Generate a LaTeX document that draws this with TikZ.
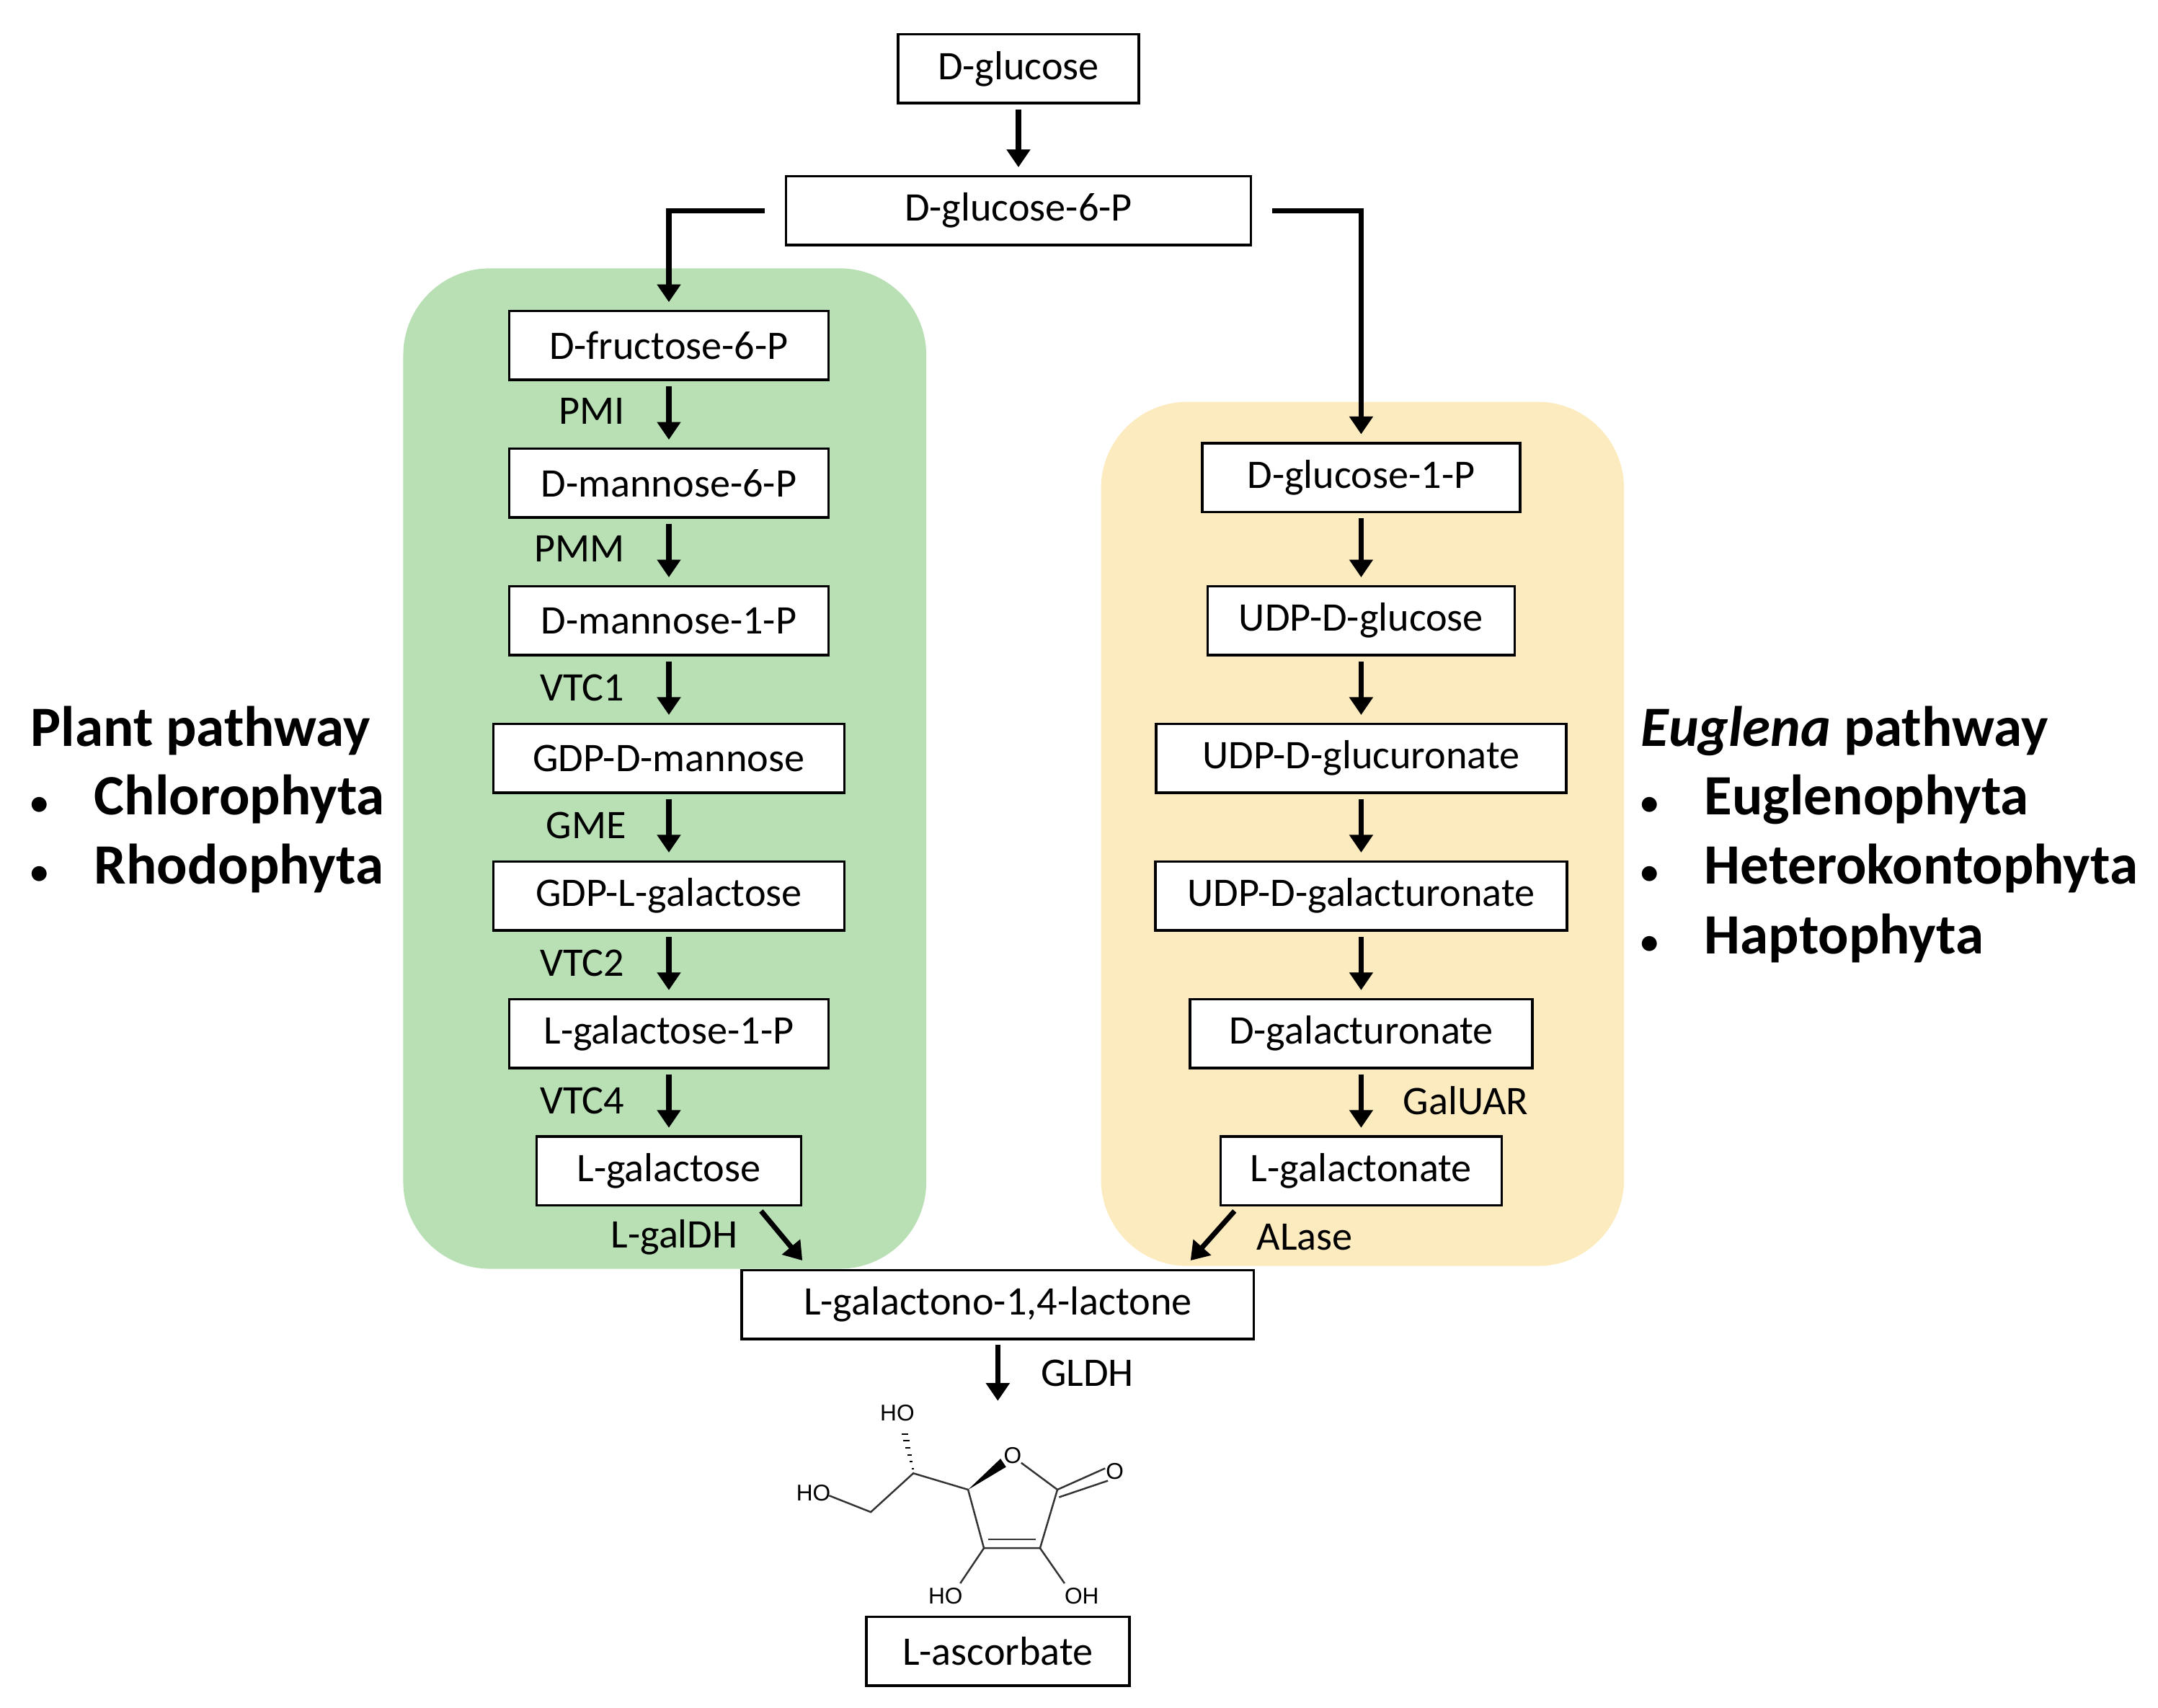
\documentclass[tikz,border=0pt]{standalone}
\usepackage{fontspec}
\setmainfont{Carlito}
\newfontfamily\molfont{Liberation Sans}
\usetikzlibrary{arrows.meta,positioning,calc}

\newcommand{\bul}{\makebox[0.88cm][l]{\fontsize{14}{16}\selectfont\textbullet}}
\tikzset{
  metab/.style={draw, line width=1pt, fill=white, minimum height=0.955cm, inner sep=0pt, font=\fontsize{16}{19}\selectfont},
  enz/.style={font=\fontsize{16}{19}\selectfont, inner sep=1pt},
  flow/.style={-{Triangle[length=7pt,width=9pt]}, line width=2pt, shorten <=2pt, shorten >=3pt},
  title/.style={font=\fontsize{22.5}{27}\selectfont\bfseries, anchor=west, inner sep=0pt},
  atom/.style={font=\molfont\fontsize{9}{10}\selectfont, inner sep=0pt},
  bond/.style={line width=0.7pt, black!80}
}

\begin{document}
\begin{tikzpicture}[x=0.019094cm, y=-0.019094cm]
    \useasboundingbox (0,0) rectangle (1568,1241);

    % pathway backgrounds
    \fill[rounded corners=1.2cm, fill={rgb,255:red,185;green,224;blue,181}] (293,195) rectangle (673,922);
    \fill[rounded corners=1.2cm, fill={rgb,255:red,253;green,235;blue,192}] (800,292) rectangle (1180,920);

    % top
    \node[metab, minimum width=3.34cm] (glc) at (740,50) {D-glucose};
    \node[metab, minimum width=6.45cm] (g6p) at (740,153) {D-glucose-6-P};
    \draw[flow] (glc) -- (g6p);

    % plant pathway
    \node[metab, minimum width=4.43cm] (f6p) at (486,251) {D-fructose-6-P};
    \node[metab, minimum width=4.43cm] (m6p) at (486,351) {D-mannose-6-P};
    \node[metab, minimum width=4.43cm] (m1p) at (486,451) {D-mannose-1-P};
    \node[metab, minimum width=4.87cm] (gdpm) at (486,551) {GDP-D-mannose};
    \node[metab, minimum width=4.87cm] (gdpg) at (486,651) {GDP-L-galactose};
    \node[metab, minimum width=4.43cm] (g1p) at (486,751) {L-galactose-1-P};
    \node[metab, minimum width=3.67cm] (lgal) at (486,851) {L-galactose};

    \draw[flow] (f6p) -- (m6p);
    \draw[flow] (m6p) -- (m1p);
    \draw[flow] (m1p) -- (gdpm);
    \draw[flow] (gdpm) -- (gdpg);
    \draw[flow] (gdpg) -- (g1p);
    \draw[flow] (g1p) -- (lgal);
    \node[enz] (pmi) at (430,299) {PMI};
    \node[enz] (pmm) at (421,399) {PMM};
    \node[enz] (vtc1) at (423,500) {VTC1};
    \node[enz] (gme) at (426,600) {GME};
    \node[enz] (vtc2) at (423,700) {VTC2};
    \node[enz] (vtc4) at (423,800) {VTC4};

    % Euglena pathway
    \node[metab, minimum width=4.41cm] (g1pe) at (989,347) {D-glucose-1-P};
    \node[metab, minimum width=4.26cm] (udpg) at (989,451) {UDP-D-glucose};
    \node[metab, minimum width=5.69cm] (udpga) at (989,551) {UDP-D-glucuronate};
    \node[metab, minimum width=5.71cm] (udpgal) at (989,651) {UDP-D-galacturonate};
    \node[metab, minimum width=4.75cm] (dgala) at (989,751) {D-galacturonate};
    \node[metab, minimum width=3.90cm] (lgalo) at (989,851) {L-galactonate};

    \draw[flow] (g1pe) -- (udpg);
    \draw[flow] (udpg) -- (udpga);
    \draw[flow] (udpga) -- (udpgal);
    \draw[flow] (udpgal) -- (dgala);
    \draw[flow] (dgala) -- (lgalo);
    \node[enz] (galuar) at (1065,800) {GalUAR};

    % branches from D-glucose-6-P
    \coordinate (gl) at (486,153);
    \coordinate (gr) at (989,153);
    \draw[flow, shorten <=8pt] (g6p.west) -- (gl) -- (f6p.north);
    \draw[flow, shorten <=8pt] (g6p.east) -- (gr) -- (g1pe.north);

    % lactone and ascorbate
    \node[metab, minimum width=7.10cm] (lac) at (725,948) {L-galactono-1,4-lactone};
    \node[metab, minimum width=3.65cm] (asc) at (725,1200) {L-ascorbate};
    \coordinate (pa) at (553,880);
    \coordinate (pb) at (583,916);
    \coordinate (ea) at (897,880);
    \coordinate (eb) at (865,916);
    \draw[flow, shorten <=0pt, shorten >=0pt] (pa) -- (pb);
    \draw[flow, shorten <=0pt, shorten >=0pt] (ea) -- (eb);
    \node[enz] (galdh) at (490,899) {L-galDH};
    \node[enz] (alase) at (948,899) {ALase};
    \coordinate (gdtop) at (725,977);
    \coordinate (gdbot) at (725,1018);
    \draw[flow, shorten <=0pt, shorten >=0pt] (gdtop) -- (gdbot);
    \node[enz] (gldh) at (790,998) {GLDH};

    % ascorbate structure
    \coordinate (c1) at (768.3,1082.5);
    \coordinate (c2) at (755.7,1125);
    \coordinate (c3) at (714.9,1125);
    \coordinate (c4) at (703.4,1082.5);
    \coordinate (c5) at (663.6,1070.6);
    \coordinate (c6) at (632.7,1098.8);
    \node[atom] (o1) at (735.8,1057.9) {O};
    \node[atom] (o2) at (810,1069) {O};
    \node[atom] (o3) at (687,1160) {HO};
    \node[atom] (o4) at (786,1160) {OH};
    \node[atom] (o5) at (652,1027) {HO};
    \node[atom] (o6) at (591,1085) {HO};
    \fill[black] (c4) -- (727,1060) -- (731,1066) -- cycle;
    \draw[bond] (742,1063) -- (c1) -- (c2) -- (c3) -- (c4) -- (c5) -- (c6) -- (602.4,1086.8);
    \draw[bond] (c1) -- (803,1067);
    \draw[bond] (769.5,1088) -- (805,1076);
    \draw[bond] (718,1118.5) -- (752.5,1118.5);
    \draw[bond] (c3) -- (697.7,1150.6);
    \draw[bond] (c2) -- (773.5,1150.6);
    \foreach \t in {0.1,0.25,...,0.95}
      \draw[line width=0.6pt] ($(c5)!\t!(655.8,1037)+(-0.8*\t*3,0)$) -- ++(1.6*\t*3+1,0);

    % side titles
    \node[title] (plant) at (22,531) {Plant pathway};
    \node[title] (chl) at (22,581) {\bul Chlorophyta};
    \node[title] (rho) at (22,631) {\bul Rhodophyta};
    \node[title] (eug) at (1192,531) {\textit{Euglena} pathway};
    \node[title] (eu1) at (1192,581) {\bul Euglenophyta};
    \node[title] (eu2) at (1192,631) {\bul Heterokontophyta};
    \node[title] (eu3) at (1192,682) {\bul Haptophyta};
\end{tikzpicture}
\end{document}
